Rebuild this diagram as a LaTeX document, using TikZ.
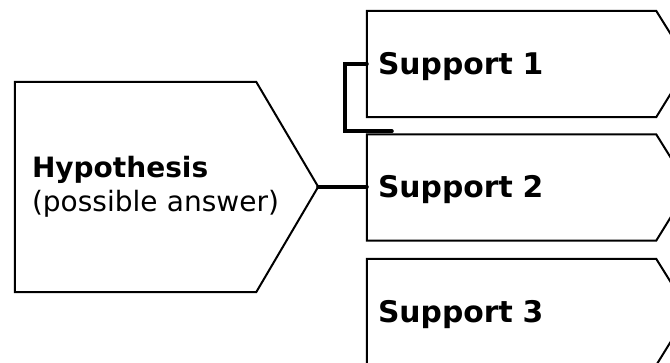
\documentclass[tikz,border=0pt]{standalone}
\usepackage{fontspec}
\setmainfont{DejaVu Sans}
\begin{document}
\begin{tikzpicture}[x=1pt,y=-1pt,
  body/.style={draw=none,rectangle,inner ysep=0pt,align=left},
  outline/.style={draw=black,line width=2pt,line join=miter},
  link/.style={draw=black,line width=4pt,line cap=round,line join=miter}]
\useasboundingbox (0,0) rectangle (670,363);

% hypothesis pentagon
\node[body,minimum width=241pt,minimum height=210pt,text width=207pt,inner xsep=17pt,
  font=\fontsize{28}{34}\selectfont]
  (hyp) at (135.5,187) {\textbf{Hypothesis}\\\mbox{(possible answer)}};
\draw[outline] (hyp.north west) -- (hyp.north east) -- ++(62,105) coordinate (hyptip)
  -- (hyp.south east) -- (hyp.south west) -- cycle;

% support arrows
\foreach \name/\cy/\lbl in {s1/64/Support 1, s2/187.5/Support 2, s3/312/Support 3}{
  \node[body,minimum width=289pt,minimum height=106pt,text width=267pt,inner xsep=11pt,
    font=\fontsize{29.8}{36}\selectfont, text depth=0pt, text height=21pt]
    (\name) at (511.5,\cy) {\textbf{\lbl}};
  \draw[outline] (\name.north west) -- (\name.north east) -- ++(33,53)
    -- (\name.south east) -- (\name.south west) -- cycle;
}

% connectors
\coordinate (j) at ([shift={(25,-3)}]s2.north west);
\draw[link] (hyptip) -- (hyptip -| s2.west);
\draw[link] (s1.west) -- ++(-22,0) |- (j);
\end{tikzpicture}
\end{document}
